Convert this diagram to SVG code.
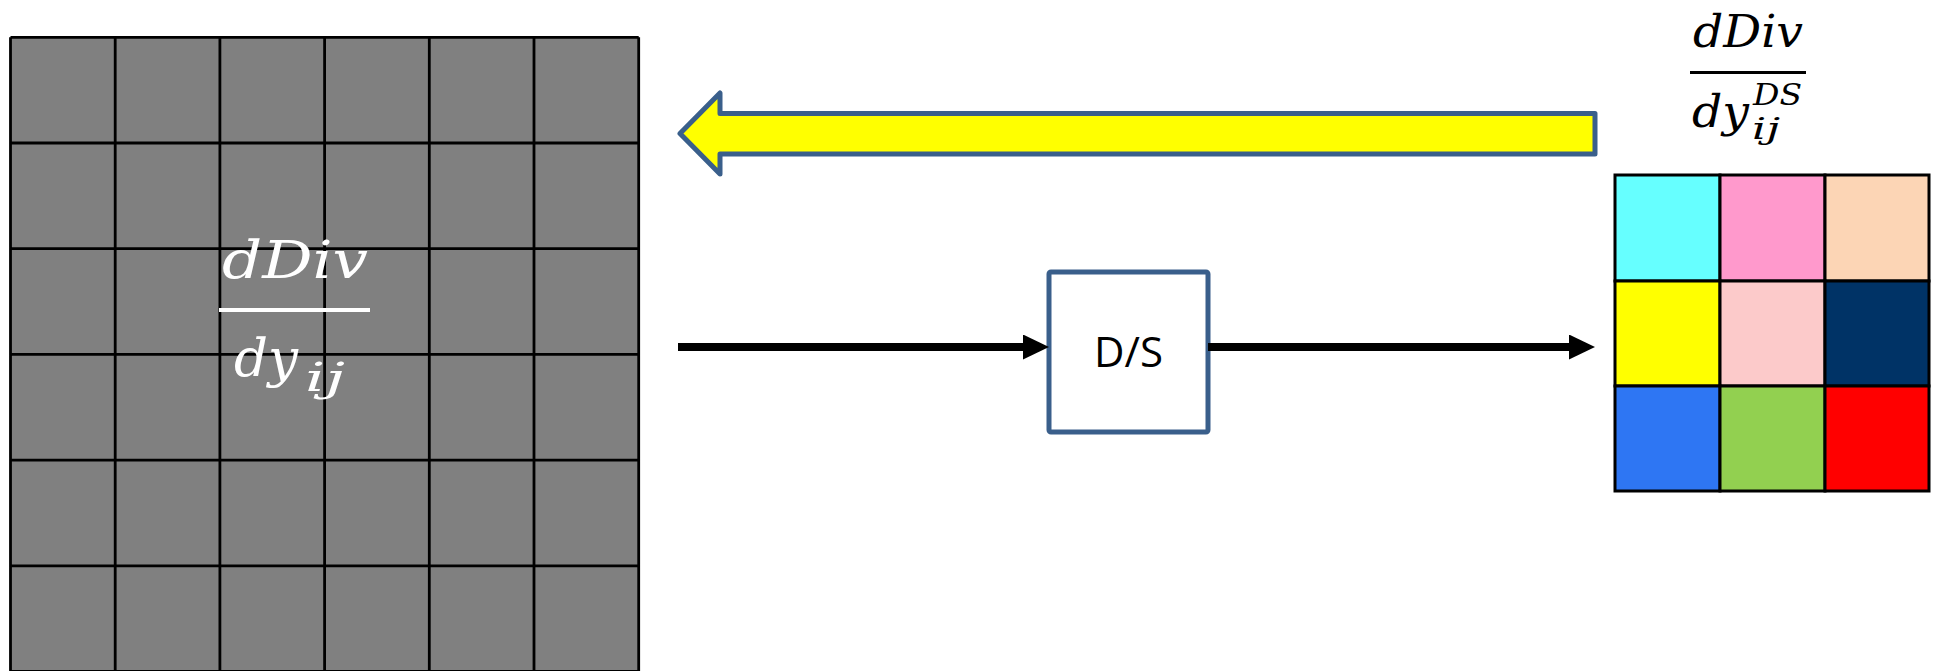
<svg xmlns="http://www.w3.org/2000/svg" width="1938" height="671" viewBox="0 0 1938 671">
  <style>
    .gl { stroke: #000; stroke-width: 2.8; fill: none; }
    .cell { stroke: #000; stroke-width: 3; }
    .math { font-family: "DejaVu Serif", "Liberation Serif", serif; font-style: italic; }
    .ds { font-family: "Open Sans", "Noto Sans", "Liberation Sans", sans-serif; font-size: 42px; fill: #000; }
    .conn { stroke: #000; stroke-width: 8; fill: none; }
  </style>
  <defs>
    <marker id="head" viewBox="0 0 26 25" refX="12" refY="12.5" markerWidth="26" markerHeight="25" markerUnits="userSpaceOnUse" orient="auto">
      <path d="M0,0 L26,12.5 L0,25 Z" fill="#000"/>
    </marker>
  </defs>
  <rect width="1938" height="671" fill="#fff"/>

  <g id="grid-left">
    <rect x="10.5" y="37.3" width="628.2" height="634.2" fill="#808080"/>
    <path class="gl" d="M10.5,37.3 V671.5 M115.2,37.3 V671.5 M219.9,37.3 V671.5 M324.6,37.3 V671.5 M429.3,37.3 V671.5 M534,37.3 V671.5 M638.7,37.3 V671.5
      M10.5,37.3 H638.7 M10.5,143 H638.7 M10.5,248.7 H638.7 M10.5,354.4 H638.7 M10.5,460.1 H638.7 M10.5,565.8 H638.7 M10.5,671.5 H638.7"/>
    <g id="label-left" fill="#fff">
      <text class="math" x="222" y="278" font-size="52" textLength="146" lengthAdjust="spacingAndGlyphs">dDiv</text>
      <rect x="219" y="308" width="151" height="4"/>
      <text class="math" x="234" y="376" font-size="52" textLength="64" lengthAdjust="spacingAndGlyphs">dy</text>
      <text class="math" x="305" y="391" font-size="40" textLength="40" lengthAdjust="spacingAndGlyphs">ij</text>
    </g>
  </g>

  <g id="back-arrow">
    <path d="M680,133.5 L720,93 L720,113.5 L1595,113.5 L1595,154 L720,154 L720,174 Z" fill="#FFFF00" stroke="#3A5F8B" stroke-width="5" stroke-linejoin="round"/>
  </g>

  <g id="ds-node">
    <rect x="1049" y="272" width="159" height="160" rx="2" fill="#fff" stroke="#3A5F8B" stroke-width="5"/>
    <text class="ds" x="1128.5" y="367" text-anchor="middle">D/S</text>
  </g>

  <g id="connectors">
    <line class="conn" x1="678" y1="347" x2="1035" y2="347" marker-end="url(#head)"/>
    <line class="conn" x1="1208" y1="347" x2="1581" y2="347" marker-end="url(#head)"/>
  </g>

  <g id="grid-ds">
    <rect class="cell" x="1615" y="175" width="105" height="106" fill="#66FFFF"/>
    <rect class="cell" x="1720" y="175" width="105" height="106" fill="#FF99CC"/>
    <rect class="cell" x="1825" y="175" width="104" height="106" fill="#FCD5B5"/>
    <rect class="cell" x="1615" y="281" width="105" height="105" fill="#FFFF00"/>
    <rect class="cell" x="1720" y="281" width="105" height="105" fill="#FCCACA"/>
    <rect class="cell" x="1825" y="281" width="104" height="105" fill="#003366"/>
    <rect class="cell" x="1615" y="386" width="105" height="105" fill="#2E76F3"/>
    <rect class="cell" x="1720" y="386" width="105" height="105" fill="#92D050"/>
    <rect class="cell" x="1825" y="386" width="104" height="105" fill="#FF0000"/>
  </g>

  <g id="label-right" fill="#000">
    <text class="math" x="1693" y="47" font-size="44" textLength="110" lengthAdjust="spacingAndGlyphs">dDiv</text>
    <rect x="1690" y="71" width="116" height="3"/>
    <text class="math" x="1692" y="127" font-size="44" textLength="57" lengthAdjust="spacingAndGlyphs">dy</text>
    <text class="math" x="1753" y="105" font-size="30" textLength="49" lengthAdjust="spacingAndGlyphs">DS</text>
    <text class="math" x="1752" y="139" font-size="30" textLength="28" lengthAdjust="spacingAndGlyphs">ij</text>
  </g>
</svg>
